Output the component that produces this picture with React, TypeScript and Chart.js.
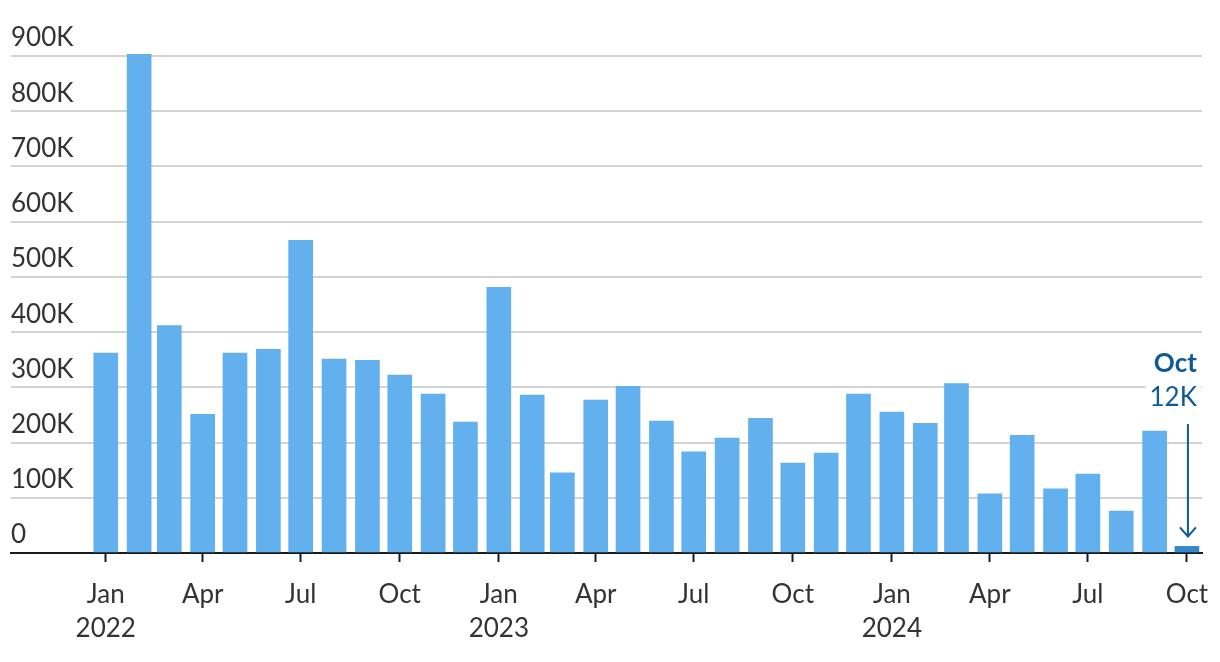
import React, { useEffect, useRef } from "react";
import { Chart, registerables } from "chart.js";

Chart.register(...registerables);

const months: string[] = [
  "2022-01", "2022-02", "2022-03", "2022-04", "2022-05", "2022-06", "2022-07", "2022-08", "2022-09", "2022-10", "2022-11", "2022-12",
  "2023-01", "2023-02", "2023-03", "2023-04", "2023-05", "2023-06", "2023-07", "2023-08", "2023-09", "2023-10", "2023-11", "2023-12",
  "2024-01", "2024-02", "2024-03", "2024-04", "2024-05", "2024-06", "2024-07", "2024-08", "2024-09", "2024-10",
];

const values: number[] = [
  362000, 903000, 412000, 251000, 362000, 369000, 566000, 351000, 349000, 322000, 288000, 237000,
  481000, 286000, 145000, 277000, 302000, 239000, 183000, 208000, 244000, 163000, 181000, 288000,
  255000, 235000, 307000, 107000, 213000, 116000, 143000, 76000, 221000, 12000,
];

const yTicks: number[] = [0, 100000, 200000, 300000, 400000, 500000, 600000, 700000, 800000, 900000];
const yTickLabels: string[] = ["0", "100K", "200K", "300K", "400K", "500K", "600K", "700K", "800K", "900K"];

const xTickMonths: string[] = ["2022-01", "2022-04", "2022-07", "2022-10", "2023-01", "2023-04", "2023-07", "2023-10", "2024-01", "2024-04", "2024-07", "2024-10"];
const xTickLabels: string[][] = [
  ["Jan", "2022"], ["Apr"], ["Jul"], ["Oct"],
  ["Jan", "2023"], ["Apr"], ["Jul"], ["Oct"],
  ["Jan", "2024"], ["Apr"], ["Jul"], ["Oct"],
];

const annotationTitle = "Oct";
const annotationValue = "12K";

const DAY = 86400000;
const origin = Date.UTC(2022, 0, 1);
const dayOf = (m: string) => {
  const [y, mo] = m.split("-").map(Number);
  return Math.round((Date.UTC(y, mo - 1, 1) - origin) / DAY);
};

const FONT = "Lato, 'Open Sans', sans-serif";
const BAR = "#63b0ee";
const BAR_LAST = "#3389cc";
const ANNO = "#0d5a96";

export default function App() {
  const ref = useRef<HTMLCanvasElement | null>(null);
  useEffect(() => {
    document.body.style.margin = "0";
    const canvas = ref.current;
    if (!canvas) return;
    const xs = months.map(dayOf);
    const tickDays = xTickMonths.map(dayOf);

    const annotationPlugin = {
      id: "anno",
      afterDatasetsDraw(chart: any) {
        const ctx = chart.ctx;
        const xScale = chart.scales.x;
        const yScale = chart.scales.y;
        const lastIdx = values.length - 1;
        const px = xScale.getPixelForValue(xs[lastIdx]);
        const py = yScale.getPixelForValue(values[lastIdx]);
        ctx.save();
        ctx.fillStyle = ANNO;
        ctx.textAlign = "right";
        ctx.textBaseline = "middle";
        const right = px + 10;
        ctx.font = `bold 26px ${FONT}`;
        ctx.fillText(annotationTitle, right, 364);
        ctx.font = `26px ${FONT}`;
        const w = ctx.measureText(annotationValue).width;
        ctx.fillStyle = "#fff";
        ctx.fillRect(right - w - 4, 383, w + 8, 28);
        ctx.fillStyle = ANNO;
        ctx.fillText(annotationValue, right, 398);
        ctx.strokeStyle = ANNO;
        ctx.lineWidth = 2;
        const tipY = py - 10;
        ctx.beginPath();
        ctx.moveTo(px + 1, 424);
        ctx.lineTo(px + 1, tipY);
        ctx.stroke();
        ctx.beginPath();
        ctx.moveTo(px - 7, tipY - 9);
        ctx.lineTo(px + 1, tipY);
        ctx.lineTo(px + 9, tipY - 9);
        ctx.stroke();
        ctx.restore();
      },
    };

    const chart = new Chart(canvas, {
      type: "bar",
      data: {
        datasets: [
          {
            data: values.map((v, i) => ({ x: xs[i], y: v })),
            backgroundColor: values.map((_, i) => (i === values.length - 1 ? BAR_LAST : BAR)),
            barThickness: 24,
            borderWidth: 0,
            clip: false,
          },
        ],
      },
      options: {
        animation: false,
        responsive: false,
        maintainAspectRatio: false,
        layout: { padding: { top: 56, left: 11, right: 18, bottom: 0 } },
        plugins: { legend: { display: false }, tooltip: { enabled: false } },
        scales: {
          x: {
            type: "linear",
            min: -88,
            max: 1018,
            offset: false,
            afterBuildTicks: (scale: any) => {
              scale.ticks = tickDays.map((d) => ({ value: d }));
            },
            afterFit: (scale: any) => {
              scale.height = 109;
              scale.paddingLeft = 0;
              scale.paddingRight = 0;
            },
            grid: {
              display: true,
              offset: false,
              drawOnChartArea: false,
              drawTicks: true,
              tickLength: 9,
              tickWidth: 2,
              tickColor: "#1a1a1a",
            },
            border: { display: true, color: "#1a1a1a", width: 2 },
            ticks: {
              autoSkip: false,
              maxRotation: 0,
              padding: 16,
              color: "#333333",
              font: { family: FONT, size: 26, lineHeight: 1.3 },
              callback: (v: any) => {
                const i = tickDays.indexOf(Number(v));
                return i >= 0 ? xTickLabels[i] : "";
              },
            },
          },
          y: {
            min: 0,
            max: 900000,
            afterBuildTicks: (scale: any) => {
              scale.ticks = yTicks.map((v) => ({ value: v }));
            },
            afterFit: (scale: any) => {
              scale.paddingTop = 0;
              scale.paddingBottom = 0;
            },
            border: { display: false },
            grid: {
              color: (c: any) => (c.tick && c.tick.value === 0 ? "rgba(0,0,0,0)" : "#d3d3d3"),
              lineWidth: 2,
              drawTicks: false,
            },
            ticks: {
              mirror: true,
              padding: 0,
              labelOffset: -18,
              color: "#333333",
              font: { family: FONT, size: 26 },
              callback: (v: any) => {
                const i = yTicks.indexOf(Number(v));
                return i >= 0 ? yTickLabels[i] : "";
              },
            },
          },
        },
      },
      plugins: [annotationPlugin],
    });
    return () => chart.destroy();
  }, []);
  return (
    <div style={{ position: "absolute", left: 0, top: 0, width: 1220, height: 662 }}>
      <canvas ref={ref} width={1220} height={662} style={{ display: "block", width: 1220, height: 662 }} />
    </div>
  );
}
